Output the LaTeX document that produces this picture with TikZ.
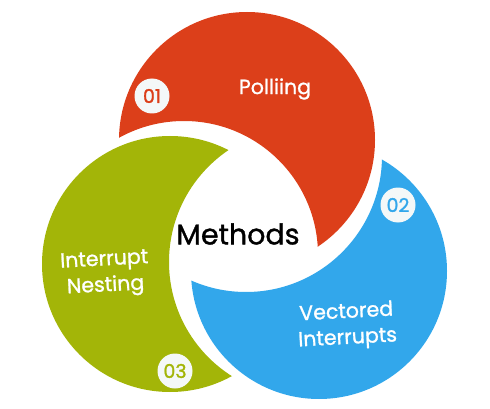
\documentclass[tikz,border=0pt]{standalone}
\usepackage{fontspec}
\setmainfont{Poppins}
\newfontfamily\heavyfont{Poppins}[FakeBold=1.2]
\definecolor{pollred}{HTML}{DC3F1A}
\definecolor{nestgreen}{HTML}{A3B508}
\definecolor{vectblue}{HTML}{32A7EB}
\definecolor{badgewhite}{HTML}{F4F8F8}
\tikzset{
  badge/.style={circle, fill=badgewhite, minimum size=35pt, inner sep=0pt, font=\heavyfont\fontsize{19}{19}\selectfont},
  caption/.style={text=white, align=center, font=\heavyfont\fontsize{20.5}{26}\selectfont}
}
\begin{document}
\begin{tikzpicture}[x=1pt,y=-1pt]
  \useasboundingbox (0,0) rectangle (490,409);
  % red crescent
  \begin{scope}
    \clip (247,140) circle (128pt);
    \fill[pollred,even odd rule] (0,0) rectangle (490,409) (184,255) circle (134pt);
  \end{scope}
  % green crescent
  \begin{scope}
    \clip (170,264) circle (128pt);
    \fill[nestgreen,even odd rule] (0,0) rectangle (490,409) (304,262) circle (135pt);
  \end{scope}
  % blue crescent
  \begin{scope}
    \clip (319,271) circle (128pt);
    \fill[vectblue,even odd rule] (0,0) rectangle (490,409) (246,156) circle (136pt);
  \end{scope}
  \node[badge,text=pollred] (one) at (152,96) {01};
  \node[badge,text=vectblue] (two) at (398,205) {02};
  \node[badge,text=nestgreen] (three) at (175,371) {03};
  \node[caption] (polling) at (275,89) {Polliing};
  \node[caption,rotate=3] (nesting) at (105,274) {Interrupt\\Nesting};
  \node[caption,rotate=3] (vectored) at (347,326) {Vectored\\Interrupts};
  \node[font=\heavyfont\fontsize{28.5}{28.5}\selectfont] (methods) at (238,234) {Methods};
\end{tikzpicture}
\end{document}
